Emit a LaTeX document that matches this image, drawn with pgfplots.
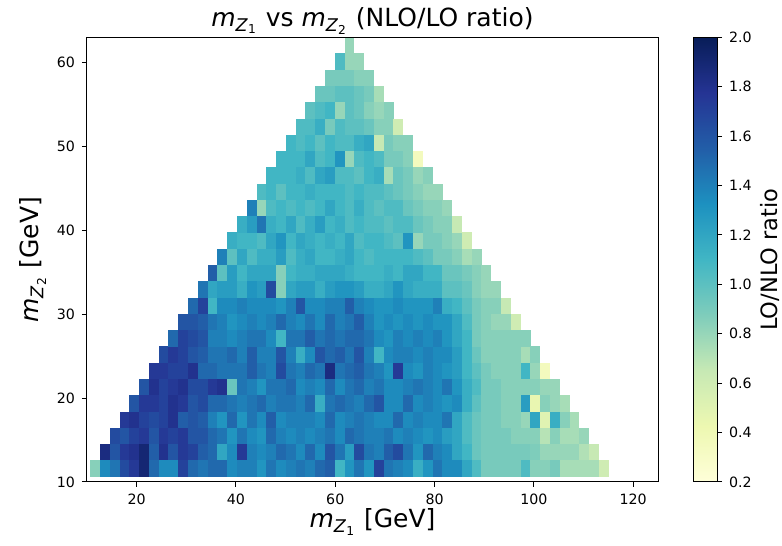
\documentclass[border=0pt]{standalone}
\usepackage{fontspec}
\setmainfont{DejaVu Sans}
\usepackage{pgfplots}
\usepackage{pgfplotstable}
\pgfplotsset{compat=1.18}
\pgfplotsset{colormap={ylgnbu}{rgb255=(255,255,217) rgb255=(237,248,177) rgb255=(199,233,180) rgb255=(127,205,187) rgb255=(65,182,196) rgb255=(29,145,192) rgb255=(34,94,168) rgb255=(37,52,148) rgb255=(8,29,88)}}
\pgfdeclareplotmark{cell}{\pgfpathrectanglecorners{\pgfpoint{-2.48pt}{-4.10pt}}{\pgfpoint{2.48pt}{4.10pt}}\pgfusepathqfill}
\newcommand{\mZ}[1]{\textit{m}\textsubscript{\textit{Z}\textsubscript{#1}}}
\pgfplotstableread{
x y v
9.68 9.66 1.85
11.65 9.66 1.30
13.62 9.66 1.90
15.59 9.66 1.90
17.56 9.66 1.85
19.53 9.66 1.95
21.50 9.66 1.90
23.47 9.66 1.85
25.44 9.66 1.80
27.41 9.66 1.90
29.38 9.66 1.85
31.35 9.66 1.80
33.32 9.66 1.75
35.29 9.66 1.60
37.26 9.66 1.55
39.23 9.66 1.60
41.20 9.66 1.55
43.17 9.66 1.50
45.14 9.66 1.30
47.11 9.66 1.50
49.08 9.66 1.65
51.05 9.66 1.70
53.02 9.66 1.65
54.99 9.66 1.60
56.96 9.66 1.65
58.93 9.66 1.50
60.90 9.66 1.45
62.87 9.66 1.50
64.84 9.66 1.40
66.81 9.66 1.45
68.78 9.66 1.50
70.75 9.66 1.55
72.72 9.66 1.60
74.69 9.66 1.55
76.66 9.66 1.50
78.63 9.66 1.45
80.60 9.66 1.45
82.57 9.66 1.40
84.54 9.66 1.35
86.51 9.66 1.15
88.48 9.66 1.05
90.45 9.66 1.00
92.42 9.66 0.95
94.39 9.66 0.90
96.36 9.66 0.55
98.33 9.66 0.85
100.30 9.66 0.85
102.27 9.66 0.90
104.24 9.66 0.85
106.21 9.66 0.85
108.18 9.66 0.85
110.15 9.66 0.80
112.12 9.66 0.80
114.09 9.66 0.50
116.06 9.66 0.85
11.65 11.60 0.85
13.62 11.60 1.35
15.59 11.60 1.45
17.56 11.60 1.65
19.53 11.60 1.75
21.50 11.60 1.90
23.47 11.60 1.50
25.44 11.60 1.35
27.41 11.60 1.35
29.38 11.60 1.70
31.35 11.60 1.50
33.32 11.60 1.45
35.29 11.60 1.50
37.26 11.60 1.50
39.23 11.60 1.35
41.20 11.60 1.40
43.17 11.60 1.40
45.14 11.60 1.30
47.11 11.60 1.45
49.08 11.60 1.35
51.05 11.60 1.40
53.02 11.60 1.45
54.99 11.60 1.40
56.96 11.60 1.50
58.93 11.60 1.55
60.90 11.60 1.10
62.87 11.60 1.30
64.84 11.60 1.45
66.81 11.60 1.30
68.78 11.60 1.70
70.75 11.60 1.45
72.72 11.60 1.40
74.69 11.60 1.35
76.66 11.60 1.15
78.63 11.60 1.30
80.60 11.60 1.45
82.57 11.60 1.35
84.54 11.60 1.35
86.51 11.60 1.20
88.48 11.60 1.05
90.45 11.60 0.90
92.42 11.60 0.90
94.39 11.60 0.90
96.36 11.60 0.90
98.33 11.60 1.05
100.30 11.60 0.85
102.27 11.60 0.85
104.24 11.60 0.90
106.21 11.60 0.75
108.18 11.60 0.75
110.15 11.60 0.75
112.12 11.60 0.75
114.09 11.60 0.60
13.62 13.54 1.85
15.59 13.54 1.60
17.56 13.54 1.75
19.53 13.54 1.80
21.50 13.54 1.90
23.47 13.54 1.55
25.44 13.54 1.80
27.41 13.54 1.60
29.38 13.54 1.75
31.35 13.54 1.70
33.32 13.54 1.55
35.29 13.54 1.50
37.26 13.54 1.20
39.23 13.54 1.35
41.20 13.54 1.75
43.17 13.54 1.40
45.14 13.54 1.35
47.11 13.54 1.40
49.08 13.54 1.50
51.05 13.54 1.45
53.02 13.54 1.35
54.99 13.54 1.50
56.96 13.54 1.35
58.93 13.54 1.60
60.90 13.54 1.45
62.87 13.54 1.25
64.84 13.54 1.65
66.81 13.54 1.45
68.78 13.54 1.40
70.75 13.54 1.55
72.72 13.54 1.65
74.69 13.54 1.45
76.66 13.54 1.30
78.63 13.54 1.50
80.60 13.54 1.40
82.57 13.54 1.35
84.54 13.54 1.20
86.51 13.54 1.10
88.48 13.54 0.95
90.45 13.54 0.90
92.42 13.54 0.90
94.39 13.54 0.90
96.36 13.54 0.90
98.33 13.54 0.90
100.30 13.54 0.88
102.27 13.54 0.80
104.24 13.54 0.80
106.21 13.54 0.80
108.18 13.54 0.80
110.15 13.54 0.72
112.12 13.54 0.65
15.59 15.48 1.65
17.56 15.48 1.60
19.53 15.48 1.70
21.50 15.48 1.75
23.47 15.48 1.60
25.44 15.48 1.75
27.41 15.48 1.70
29.38 15.48 1.75
31.35 15.48 1.60
33.32 15.48 1.60
35.29 15.48 1.50
37.26 15.48 1.45
39.23 15.48 1.30
41.20 15.48 1.45
43.17 15.48 1.35
45.14 15.48 1.30
47.11 15.48 1.50
49.08 15.48 1.40
51.05 15.48 1.35
53.02 15.48 1.40
54.99 15.48 1.35
56.96 15.48 1.40
58.93 15.48 1.45
60.90 15.48 1.35
62.87 15.48 1.50
64.84 15.48 1.45
66.81 15.48 1.40
68.78 15.48 1.40
70.75 15.48 1.45
72.72 15.48 1.35
74.69 15.48 1.40
76.66 15.48 1.35
78.63 15.48 1.30
80.60 15.48 1.35
82.57 15.48 1.25
84.54 15.48 1.20
86.51 15.48 1.05
88.48 15.48 0.95
90.45 15.48 0.90
92.42 15.48 0.90
94.39 15.48 0.90
96.36 15.48 0.85
98.33 15.48 0.85
100.30 15.48 0.85
102.27 15.48 0.70
104.24 15.48 0.85
106.21 15.48 0.75
108.18 15.48 0.75
110.15 15.48 0.80
17.56 17.42 1.75
19.53 17.42 1.80
21.50 17.42 1.70
23.47 17.42 1.65
25.44 17.42 1.70
27.41 17.42 1.80
29.38 17.42 1.55
31.35 17.42 1.60
33.32 17.42 1.55
35.29 17.42 1.40
37.26 17.42 1.30
39.23 17.42 1.50
41.20 17.42 1.30
43.17 17.42 1.45
45.14 17.42 1.35
47.11 17.42 1.55
49.08 17.42 1.35
51.05 17.42 1.40
53.02 17.42 1.40
54.99 17.42 1.40
56.96 17.42 1.35
58.93 17.42 1.50
60.90 17.42 1.35
62.87 17.42 1.40
64.84 17.42 1.45
66.81 17.42 1.40
68.78 17.42 1.35
70.75 17.42 1.35
72.72 17.42 1.50
74.69 17.42 1.35
76.66 17.42 1.40
78.63 17.42 1.35
80.60 17.42 1.35
82.57 17.42 1.45
84.54 17.42 1.20
86.51 17.42 1.05
88.48 17.42 0.95
90.45 17.42 0.90
92.42 17.42 0.90
94.39 17.42 0.85
96.36 17.42 0.85
98.33 17.42 0.80
100.30 17.42 1.20
102.27 17.42 0.50
104.24 17.42 1.15
106.21 17.42 0.85
108.18 17.42 0.75
19.53 19.36 1.60
21.50 19.36 1.75
23.47 19.36 1.75
25.44 19.36 1.70
27.41 19.36 1.80
29.38 19.36 1.75
31.35 19.36 1.60
33.32 19.36 1.65
35.29 19.36 1.50
37.26 19.36 1.50
39.23 19.36 1.45
41.20 19.36 1.40
43.17 19.36 1.45
45.14 19.36 1.50
47.11 19.36 1.40
49.08 19.36 1.45
51.05 19.36 1.45
53.02 19.36 1.40
54.99 19.36 1.50
56.96 19.36 1.15
58.93 19.36 1.45
60.90 19.36 1.50
62.87 19.36 1.45
64.84 19.36 1.40
66.81 19.36 1.50
68.78 19.36 1.60
70.75 19.36 1.35
72.72 19.36 1.35
74.69 19.36 1.50
76.66 19.36 1.35
78.63 19.36 1.40
80.60 19.36 1.35
82.57 19.36 1.30
84.54 19.36 1.35
86.51 19.36 1.15
88.48 19.36 1.00
90.45 19.36 0.90
92.42 19.36 0.90
94.39 19.36 0.85
96.36 19.36 0.85
98.33 19.36 1.25
100.30 19.36 0.45
102.27 19.36 0.85
104.24 19.36 0.80
106.21 19.36 0.75
21.50 21.30 1.60
23.47 21.30 1.80
25.44 21.30 1.70
27.41 21.30 1.75
29.38 21.30 1.80
31.35 21.30 1.65
33.32 21.30 1.65
35.29 21.30 1.75
37.26 21.30 1.80
39.23 21.30 0.95
41.20 21.30 1.45
43.17 21.30 1.40
45.14 21.30 1.30
47.11 21.30 1.45
49.08 21.30 1.45
51.05 21.30 1.50
53.02 21.30 1.35
54.99 21.30 1.40
56.96 21.30 1.35
58.93 21.30 1.50
60.90 21.30 1.35
62.87 21.30 1.45
64.84 21.30 1.50
66.81 21.30 1.40
68.78 21.30 1.45
70.75 21.30 1.35
72.72 21.30 1.35
74.69 21.30 1.40
76.66 21.30 1.45
78.63 21.30 1.40
80.60 21.30 1.35
82.57 21.30 1.45
84.54 21.30 1.30
86.51 21.30 1.15
88.48 21.30 1.05
90.45 21.30 0.90
92.42 21.30 0.90
94.39 21.30 0.85
96.36 21.30 0.85
98.33 21.30 0.85
100.30 21.30 0.85
102.27 21.30 0.80
104.24 21.30 0.80
23.47 23.24 1.75
25.44 23.24 1.75
27.41 23.24 1.70
29.38 23.24 1.70
31.35 23.24 1.80
33.32 23.24 1.50
35.29 23.24 1.50
37.26 23.24 1.45
39.23 23.24 1.45
41.20 23.24 1.45
43.17 23.24 1.55
45.14 23.24 1.45
47.11 23.24 1.40
49.08 23.24 1.65
51.05 23.24 1.45
53.02 23.24 1.40
54.99 23.24 1.50
56.96 23.24 1.45
58.93 23.24 1.85
60.90 23.24 1.45
62.87 23.24 1.50
64.84 23.24 1.55
66.81 23.24 1.45
68.78 23.24 1.40
70.75 23.24 1.30
72.72 23.24 1.75
74.69 23.24 1.35
76.66 23.24 1.30
78.63 23.24 1.40
80.60 23.24 1.35
82.57 23.24 1.30
84.54 23.24 1.25
86.51 23.24 1.10
88.48 23.24 1.00
90.45 23.24 0.90
92.42 23.24 0.85
94.39 23.24 0.85
96.36 23.24 0.85
98.33 23.24 1.10
100.30 23.24 0.80
102.27 23.24 0.35
25.44 25.18 1.65
27.41 25.18 1.75
29.38 25.18 1.70
31.35 25.18 1.60
33.32 25.18 1.55
35.29 25.18 1.45
37.26 25.18 1.45
39.23 25.18 1.50
41.20 25.18 1.40
43.17 25.18 1.55
45.14 25.18 1.40
47.11 25.18 1.40
49.08 25.18 1.60
51.05 25.18 1.40
53.02 25.18 1.15
54.99 25.18 1.35
56.96 25.18 1.60
58.93 25.18 1.50
60.90 25.18 1.55
62.87 25.18 1.45
64.84 25.18 1.60
66.81 25.18 1.40
68.78 25.18 1.10
70.75 25.18 1.35
72.72 25.18 1.40
74.69 25.18 1.40
76.66 25.18 1.35
78.63 25.18 1.40
80.60 25.18 1.35
82.57 25.18 1.35
84.54 25.18 1.25
86.51 25.18 1.10
88.48 25.18 0.95
90.45 25.18 0.85
92.42 25.18 0.85
94.39 25.18 0.85
96.36 25.18 0.85
98.33 25.18 0.75
100.30 25.18 0.85
27.41 27.12 1.50
29.38 27.12 1.70
31.35 27.12 1.65
33.32 27.12 1.60
35.29 27.12 1.40
37.26 27.12 1.40
39.23 27.12 1.35
41.20 27.12 1.40
43.17 27.12 1.45
45.14 27.12 1.45
47.11 27.12 1.35
49.08 27.12 1.10
51.05 27.12 1.45
53.02 27.12 1.45
54.99 27.12 1.55
56.96 27.12 1.45
58.93 27.12 1.50
60.90 27.12 1.45
62.87 27.12 1.50
64.84 27.12 1.50
66.81 27.12 1.45
68.78 27.12 1.35
70.75 27.12 1.30
72.72 27.12 1.40
74.69 27.12 1.35
76.66 27.12 1.40
78.63 27.12 1.35
80.60 27.12 1.40
82.57 27.12 1.30
84.54 27.12 1.20
86.51 27.12 1.10
88.48 27.12 0.90
90.45 27.12 0.85
92.42 27.12 0.85
94.39 27.12 0.85
96.36 27.12 0.85
98.33 27.12 0.85
29.38 29.06 1.60
31.35 29.06 1.60
33.32 29.06 1.55
35.29 29.06 1.45
37.26 29.06 1.40
39.23 29.06 1.30
41.20 29.06 1.35
43.17 29.06 1.40
45.14 29.06 1.35
47.11 29.06 1.40
49.08 29.06 1.50
51.05 29.06 1.40
53.02 29.06 1.35
54.99 29.06 1.45
56.96 29.06 1.35
58.93 29.06 1.50
60.90 29.06 1.40
62.87 29.06 1.45
64.84 29.06 1.55
66.81 29.06 1.40
68.78 29.06 1.30
70.75 29.06 1.35
72.72 29.06 1.30
74.69 29.06 1.35
76.66 29.06 1.30
78.63 29.06 1.35
80.60 29.06 1.30
82.57 29.06 1.30
84.54 29.06 1.20
86.51 29.06 1.05
88.48 29.06 0.90
90.45 29.06 0.85
92.42 29.06 0.80
94.39 29.06 0.80
96.36 29.06 0.60
31.35 31.00 1.50
33.32 31.00 1.70
35.29 31.00 1.10
37.26 31.00 1.35
39.23 31.00 1.35
41.20 31.00 1.40
43.17 31.00 1.35
45.14 31.00 1.35
47.11 31.00 1.35
49.08 31.00 1.30
51.05 31.00 1.40
53.02 31.00 1.60
54.99 31.00 1.35
56.96 31.00 1.35
58.93 31.00 1.40
60.90 31.00 1.40
62.87 31.00 1.55
64.84 31.00 1.40
66.81 31.00 1.35
68.78 31.00 1.30
70.75 31.00 1.30
72.72 31.00 1.35
74.69 31.00 1.30
76.66 31.00 1.30
78.63 31.00 1.30
80.60 31.00 1.40
82.57 31.00 1.15
84.54 31.00 1.10
86.51 31.00 1.00
88.48 31.00 0.90
90.45 31.00 0.85
92.42 31.00 0.85
94.39 31.00 0.65
33.32 32.94 1.45
35.29 32.94 1.20
37.26 32.94 1.25
39.23 32.94 1.25
41.20 32.94 1.15
43.17 32.94 1.30
45.14 32.94 1.25
47.11 32.94 1.65
49.08 32.94 0.85
51.05 32.94 1.20
53.02 32.94 1.25
54.99 32.94 1.25
56.96 32.94 1.15
58.93 32.94 1.25
60.90 32.94 1.30
62.87 32.94 1.30
64.84 32.94 1.25
66.81 32.94 1.15
68.78 32.94 1.15
70.75 32.94 1.20
72.72 32.94 1.30
74.69 32.94 1.20
76.66 32.94 1.15
78.63 32.94 1.15
80.60 32.94 1.15
82.57 32.94 1.00
84.54 32.94 1.00
86.51 32.94 0.95
88.48 32.94 0.85
90.45 32.94 0.80
92.42 32.94 0.80
35.29 34.88 1.55
37.26 34.88 1.00
39.23 34.88 1.25
41.20 34.88 1.10
43.17 34.88 1.20
45.14 34.88 1.20
47.11 34.88 1.20
49.08 34.88 0.85
51.05 34.88 1.10
53.02 34.88 1.15
54.99 34.88 1.15
56.96 34.88 1.20
58.93 34.88 1.20
60.90 34.88 1.20
62.87 34.88 1.15
64.84 34.88 1.10
66.81 34.88 1.10
68.78 34.88 1.10
70.75 34.88 1.15
72.72 34.88 1.10
74.69 34.88 1.20
76.66 34.88 1.20
78.63 34.88 1.10
80.60 34.88 1.10
82.57 34.88 0.95
84.54 34.88 0.95
86.51 34.88 0.90
88.48 34.88 0.85
90.45 34.88 0.80
37.26 36.82 1.40
39.23 36.82 1.00
41.20 36.82 1.20
43.17 36.82 1.05
45.14 36.82 1.15
47.11 36.82 1.15
49.08 36.82 1.25
51.05 36.82 1.05
53.02 36.82 1.15
54.99 36.82 1.20
56.96 36.82 1.10
58.93 36.82 1.10
60.90 36.82 1.15
62.87 36.82 1.20
64.84 36.82 1.10
66.81 36.82 1.05
68.78 36.82 1.10
70.75 36.82 1.10
72.72 36.82 1.10
74.69 36.82 1.10
76.66 36.82 1.05
78.63 36.82 1.00
80.60 36.82 0.90
82.57 36.82 0.90
84.54 36.82 0.85
86.51 36.82 0.75
88.48 36.82 0.80
39.23 38.76 1.15
41.20 38.76 1.10
43.17 38.76 1.10
45.14 38.76 1.05
47.11 38.76 1.20
49.08 38.76 1.30
51.05 38.76 1.10
53.02 38.76 1.20
54.99 38.76 1.15
56.96 38.76 1.10
58.93 38.76 1.15
60.90 38.76 1.10
62.87 38.76 1.20
64.84 38.76 1.05
66.81 38.76 1.10
68.78 38.76 1.10
70.75 38.76 1.05
72.72 38.76 1.00
74.69 38.76 1.30
76.66 38.76 0.80
78.63 38.76 0.90
80.60 38.76 0.90
82.57 38.76 0.85
84.54 38.76 0.80
86.51 38.76 0.60
41.20 40.70 1.15
43.17 40.70 1.25
45.14 40.70 1.45
47.11 40.70 1.15
49.08 40.70 1.10
51.05 40.70 1.20
53.02 40.70 1.05
54.99 40.70 1.15
56.96 40.70 1.25
58.93 40.70 1.10
60.90 40.70 1.15
62.87 40.70 1.05
64.84 40.70 1.10
66.81 40.70 1.05
68.78 40.70 1.05
70.75 40.70 1.00
72.72 40.70 1.05
74.69 40.70 1.05
76.66 40.70 0.95
78.63 40.70 0.90
80.60 40.70 0.85
82.57 40.70 0.85
84.54 40.70 0.65
43.17 42.64 1.40
45.14 42.64 0.80
47.11 42.64 1.05
49.08 42.64 1.10
51.05 42.64 1.05
53.02 42.64 1.10
54.99 42.64 1.05
56.96 42.64 1.10
58.93 42.64 1.20
60.90 42.64 1.10
62.87 42.64 1.05
64.84 42.64 1.15
66.81 42.64 1.05
68.78 42.64 1.00
70.75 42.64 1.05
72.72 42.64 1.05
74.69 42.64 0.95
76.66 42.64 0.90
78.63 42.64 0.85
80.60 42.64 0.85
82.57 42.64 0.80
45.14 44.58 1.05
47.11 44.58 1.10
49.08 44.58 1.00
51.05 44.58 1.10
53.02 44.58 1.10
54.99 44.58 1.15
56.96 44.58 1.10
58.93 44.58 1.10
60.90 44.58 1.10
62.87 44.58 1.05
64.84 44.58 1.10
66.81 44.58 1.05
68.78 44.58 1.05
70.75 44.58 1.00
72.72 44.58 0.95
74.69 44.58 0.90
76.66 44.58 0.85
78.63 44.58 0.80
80.60 44.58 0.80
47.11 46.52 1.10
49.08 46.52 1.10
51.05 46.52 1.10
53.02 46.52 1.15
54.99 46.52 1.05
56.96 46.52 1.20
58.93 46.52 1.25
60.90 46.52 1.05
62.87 46.52 1.05
64.84 46.52 1.00
66.81 46.52 1.10
68.78 46.52 1.15
70.75 46.52 0.75
72.72 46.52 0.95
74.69 46.52 0.90
76.66 46.52 0.80
78.63 46.52 0.85
49.08 48.46 1.10
51.05 48.46 1.10
53.02 48.46 1.10
54.99 48.46 1.20
56.96 48.46 1.05
58.93 48.46 1.10
60.90 48.46 1.30
62.87 48.46 0.80
64.84 48.46 1.05
66.81 48.46 1.10
68.78 48.46 1.05
70.75 48.46 0.90
72.72 48.46 0.90
74.69 48.46 0.85
76.66 48.46 0.35
51.05 50.40 1.10
53.02 50.40 1.05
54.99 50.40 1.10
56.96 50.40 1.00
58.93 50.40 1.10
60.90 50.40 1.05
62.87 50.40 1.05
64.84 50.40 1.15
66.81 50.40 1.20
68.78 50.40 0.65
70.75 50.40 0.90
72.72 50.40 0.85
74.69 50.40 0.85
53.02 52.34 1.05
54.99 52.34 1.05
56.96 52.34 1.15
58.93 52.34 0.90
60.90 52.34 1.05
62.87 52.34 1.00
64.84 52.34 1.00
66.81 52.34 0.95
68.78 52.34 0.85
70.75 52.34 0.85
72.72 52.34 0.60
54.99 54.28 1.00
56.96 54.28 1.05
58.93 54.28 1.10
60.90 54.28 0.80
62.87 54.28 1.00
64.84 54.28 0.95
66.81 54.28 0.85
68.78 54.28 0.80
70.75 54.28 0.85
56.96 56.22 0.95
58.93 56.22 0.95
60.90 56.22 1.00
62.87 56.22 1.00
64.84 56.22 0.95
66.81 56.22 0.90
68.78 56.22 0.75
58.93 58.16 0.90
60.90 58.16 0.90
62.87 58.16 0.90
64.84 58.16 0.85
66.81 58.16 0.85
60.90 60.10 1.05
62.87 60.10 0.80
64.84 60.10 0.80
62.87 62.04 0.80
}\cells
\begin{document}
\begin{tikzpicture}
\begin{axis}[
  name=ax,
  scale only axis,
  width=285.5pt, height=222.35pt,
  xmin=10, xmax=125, ymin=10, ymax=63,
  enlargelimits=false,
  axis on top,
  clip marker paths=true,
  colormap name=ylgnbu,
  point meta min=0.2, point meta max=2.0,
  xtick={20,40,60,80,100,120},
  ytick={10,20,30,40,50,60},
  xtick pos=left, ytick pos=left,
  tick align=outside,
  major tick length=2.5pt,
  tick style={black, line width=0.5pt},
  axis line style={black, line width=0.5pt},
  ticklabel style={font=\fontsize{7.1}{8.5}\selectfont},
  /pgf/number format/assume math mode=true,
  every axis title shift=0pt,
  title={\mZ{1} vs \mZ{2} (NLO/LO ratio)},
  title style={at={(axis description cs:0.5,1)}, anchor=base, yshift=5.3pt, font=\fontsize{12.5}{15}\selectfont},
  xlabel={\mZ{1} [GeV]},
  xlabel style={at={(axis description cs:0.5,-0.09)}, anchor=center, font=\fontsize{12.5}{15}\selectfont},
  ylabel={\mZ{2} [GeV]},
  ylabel style={at={(axis description cs:-0.0946,0.5)}, anchor=center, font=\fontsize{12.5}{15}\selectfont},
  colorbar,
  colorbar style={
    at={(parent axis.north east)}, anchor=north west, xshift=9pt,
    width=12pt,
    ytick={0.2,0.4,0.6,0.8,1.0,1.2,1.4,1.6,1.8,2.0},
    ytick pos=right,
    tick align=outside,
    major tick length=2.5pt,
    tick style={black, line width=0.5pt},
    axis line style={black, line width=0.5pt},
    /pgf/number format/assume math mode=true,
    yticklabel style={font=\fontsize{7.1}{8.5}\selectfont, /pgf/number format/fixed, /pgf/number format/fixed zerofill, /pgf/number format/precision=1},
    ylabel={LO/NLO ratio},
    ylabel style={at={(axis description cs:3.21,0.5)}, anchor=center, font=\fontsize{11.25}{13}\selectfont},
  },
]
\addplot[scatter, only marks, mark=cell, point meta=explicit,
  scatter/use mapped color={draw=mapped color, fill=mapped color}]
  table[x=x, y=y, meta=v] {\cells};
\end{axis}
\pgfresetboundingbox
\path ([shift={(-43.5pt,-32pt)}]ax.south west) rectangle ([shift={(62pt,18.65pt)}]ax.north east);
\end{tikzpicture}
\end{document}
